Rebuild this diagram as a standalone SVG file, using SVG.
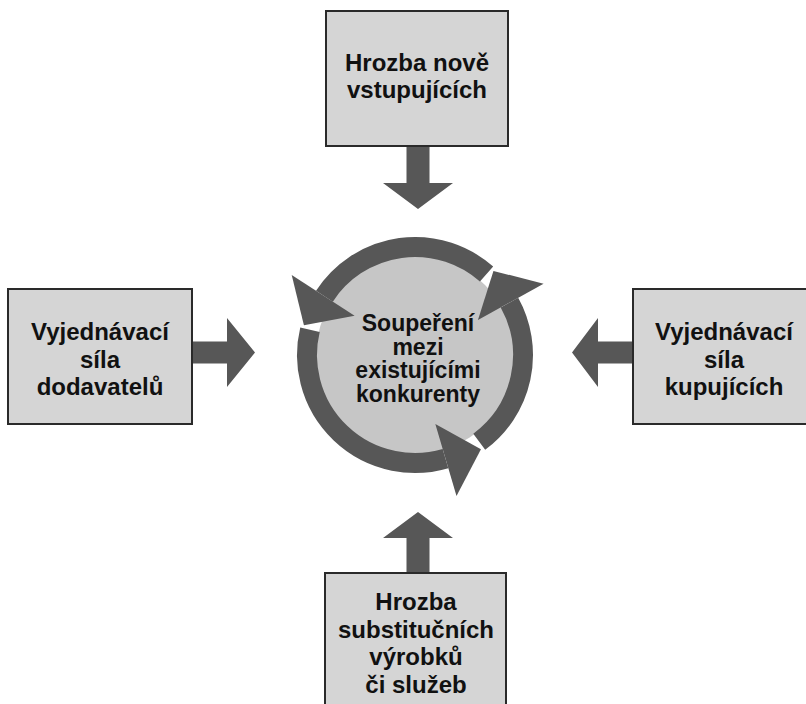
<svg xmlns="http://www.w3.org/2000/svg" width="806" height="704" viewBox="0 0 806 704">
  <style>
    .box { fill: #d5d5d5; stroke: #2a2a2a; stroke-width: 2; }
    .lbl { font-family: "Liberation Sans", Arial, sans-serif; font-weight: bold; font-size: 24px; fill: #111; text-anchor: middle; }
    .clbl { font-family: "Liberation Sans", Arial, sans-serif; font-weight: bold; font-size: 23px; fill: #111; text-anchor: middle; }
    .arrow { fill: #575757; stroke: none; }
    .ring { fill: none; stroke: #575757; stroke-width: 20; stroke-linecap: butt; }
  </style>
  <rect width="806" height="704" fill="#ffffff"/>

  <g id="center">
    <circle cx="415" cy="355" r="99" fill="#c6c6c6"/>
    <path class="ring" d="M 486.56 274.11 A 108 108 0 0 0 324.42 296.18"/>
    <path class="ring" d="M 309.98 329.79 A 108 108 0 0 0 445.49 458.60"/>
    <path class="ring" d="M 479.24 441.82 A 108 108 0 0 0 509.46 302.64"/>
    <polygon class="arrow" points="354.61,315.79 291.71,274.94 303.92,325.24"/>
    <polygon class="arrow" points="435.33,424.07 456.50,496.02 480.96,449.20"/>
    <polygon class="arrow" points="477.97,320.09 543.57,283.73 493.43,270.89"/>
    <text class="clbl" x="418" y="331">Soupeření</text>
    <text class="clbl" x="418" y="354.5">mezi</text>
    <text class="clbl" x="418" y="378">existujícími</text>
    <text class="clbl" x="418" y="401.5">konkurenty</text>
  </g>

  <g id="top">
    <rect class="box" x="326" y="11" width="182" height="135"/>
    <text class="lbl" x="417" y="71">Hrozba nově</text>
    <text class="lbl" x="417" y="98">vstupujících</text>
  </g>

  <g id="left">
    <rect class="box" x="8" y="289" width="184" height="135"/>
    <text class="lbl" x="100" y="340">Vyjednávací</text>
    <text class="lbl" x="100" y="368">síla</text>
    <text class="lbl" x="100" y="395">dodavatelů</text>
  </g>

  <g id="right">
    <rect class="box" x="633" y="289" width="184" height="135"/>
    <text class="lbl" x="724" y="340">Vyjednávací</text>
    <text class="lbl" x="724" y="368">síla</text>
    <text class="lbl" x="724" y="395">kupujících</text>
  </g>

  <g id="bottom">
    <rect class="box" x="325" y="573" width="181" height="140"/>
    <text class="lbl" x="416" y="610">Hrozba</text>
    <text class="lbl" x="416" y="638">substitučních</text>
    <text class="lbl" x="416" y="665">výrobků</text>
    <text class="lbl" x="416" y="693">či služeb</text>
  </g>

  <g id="connectors">
    <polygon class="arrow" points="406.5,147 429.5,147 429.5,183 453,183 418,209 383,183 406.5,183"/>
    <polygon class="arrow" points="193,341.5 227,341.5 227,318 255,352.5 227,387 227,363.5 193,363.5"/>
    <polygon class="arrow" points="632,341.5 598,341.5 598,318 572,352.5 598,387 598,363.5 632,363.5"/>
    <polygon class="arrow" points="406.5,572 429.5,572 429.5,538 453,538 418,512 383,538 406.5,538"/>
  </g>
</svg>
